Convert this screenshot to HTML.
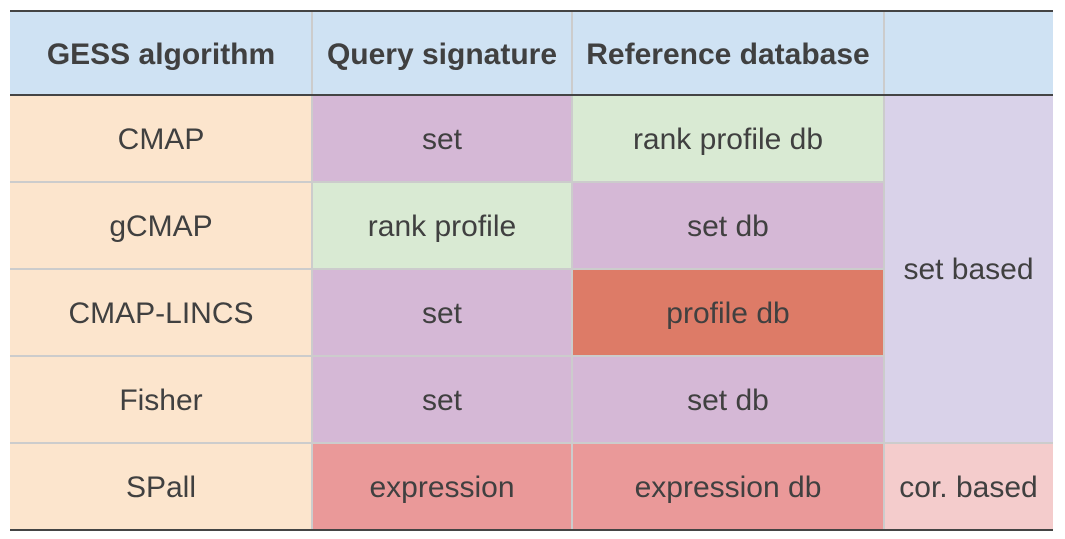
<!DOCTYPE html>
<html><head><style>
body{margin:0;width:1065px;height:539px;background:#fff;position:relative;font-family:"Liberation Sans",sans-serif;color:#404040;overflow:hidden}
.c{position:absolute;display:flex;align-items:center;justify-content:center;font-size:30px;box-sizing:border-box;padding-top:2px}
.h{font-weight:bold;background:#cfe2f3}
.l{position:absolute;background:#cccccc}
.d{position:absolute;background:#444;height:2px;left:10px;width:1043px}
</style></head><body>
<div class="c h" style="left:10px;top:12px;width:302px;height:83px">GESS algorithm</div>
<div class="c h" style="left:312px;top:12px;width:260px;height:83px">Query signature</div>
<div class="c h" style="left:572px;top:12px;width:312px;height:83px">Reference database</div>
<div class="c h" style="left:884px;top:12px;width:169px;height:83px"></div>

<div class="c" style="left:10px;top:95px;width:302px;height:87px;background:#fce5cd">CMAP</div>
<div class="c" style="left:312px;top:95px;width:260px;height:87px;background:#d5b8d6">set</div>
<div class="c" style="left:572px;top:95px;width:312px;height:87px;background:#d9ead3">rank profile db</div>

<div class="c" style="left:10px;top:182px;width:302px;height:87px;background:#fce5cd">gCMAP</div>
<div class="c" style="left:312px;top:182px;width:260px;height:87px;background:#d9ead3">rank profile</div>
<div class="c" style="left:572px;top:182px;width:312px;height:87px;background:#d5b8d6">set db</div>

<div class="c" style="left:10px;top:269px;width:302px;height:87px;background:#fce5cd">CMAP-LINCS</div>
<div class="c" style="left:312px;top:269px;width:260px;height:87px;background:#d5b8d6">set</div>
<div class="c" style="left:572px;top:269px;width:312px;height:87px;background:#dd7b67">profile db</div>

<div class="c" style="left:10px;top:356px;width:302px;height:87px;background:#fce5cd">Fisher</div>
<div class="c" style="left:312px;top:356px;width:260px;height:87px;background:#d5b8d6">set</div>
<div class="c" style="left:572px;top:356px;width:312px;height:87px;background:#d5b8d6">set db</div>

<div class="c" style="left:884px;top:95px;width:169px;height:348px;background:#d9d2e9">set based</div>

<div class="c" style="left:10px;top:443px;width:302px;height:87px;background:#fce5cd">SPall</div>
<div class="c" style="left:312px;top:443px;width:260px;height:87px;background:#ea9999">expression</div>
<div class="c" style="left:572px;top:443px;width:312px;height:87px;background:#ea9999">expression db</div>
<div class="c" style="left:884px;top:443px;width:169px;height:87px;background:#f4cccc">cor. based</div>

<div class="l" style="left:311px;top:12px;width:2px;height:518px"></div>
<div class="l" style="left:571px;top:12px;width:2px;height:518px"></div>
<div class="l" style="left:883px;top:12px;width:2px;height:518px"></div>
<div class="l" style="left:10px;top:181px;width:874px;height:2px"></div>
<div class="l" style="left:10px;top:268px;width:874px;height:2px"></div>
<div class="l" style="left:10px;top:355px;width:874px;height:2px"></div>
<div class="l" style="left:10px;top:442px;width:1043px;height:2px"></div>

<div class="d" style="top:10px"></div>
<div class="d" style="top:94px"></div>
<div class="d" style="top:529px"></div>
</body></html>
